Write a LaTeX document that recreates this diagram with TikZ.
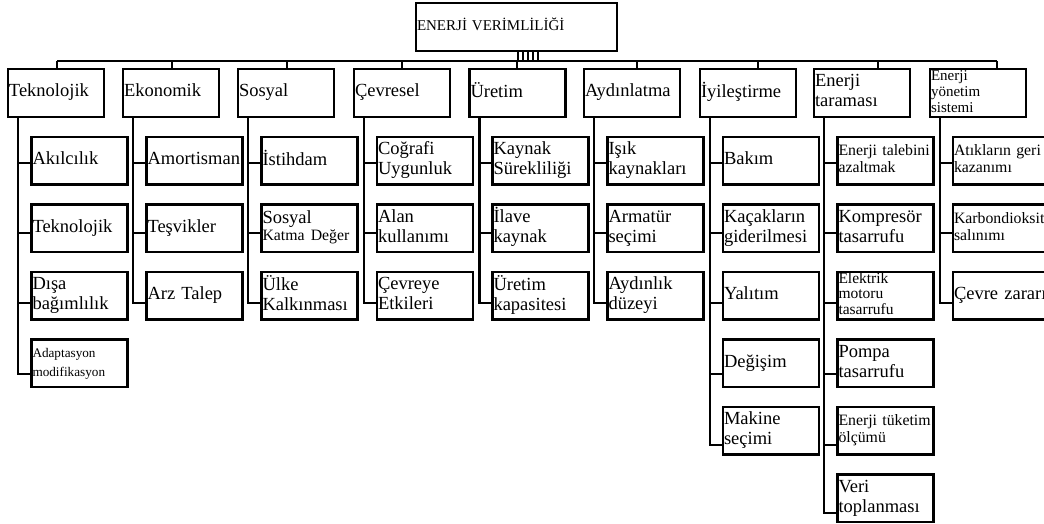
\documentclass[tikz,border=0pt]{standalone}
\usepackage{fontspec}
\setmainfont{Liberation Serif}
\usetikzlibrary{calc}
\tikzset{
  basebox/.style={draw=black, line width=2.4pt, anchor=north west, outer sep=0pt,
    inner xsep=1pt, inner ysep=0pt, text width=94pt, align=left,
    font=\fontsize{18.5}{20}\selectfont,
    execute at begin node=\strut, execute at end node=\strut},
  catbox/.style={basebox, minimum height=48pt},
  itembox/.style={basebox, minimum height=47.5pt},
  smalltext/.style={font=\fontsize{15.8}{17}\selectfont},
  tinytext/.style={font=\fontsize{13.2}{19}\selectfont},
  connline/.style={draw=black, line width=2.4pt},
  stripe/.style={draw=black, line width=1.3pt}
}
\newcommand{\kidlink}[3]{\draw[connline] ([xshift=10pt]#1.south west) |- ($(#2.west)+(0,#3)$);}
\begin{document}
\begin{tikzpicture}[x=1pt,y=-1pt]
\path[use as bounding box, clip] (0,0) rectangle (1044,524);

% root
\node[basebox, minimum height=48pt, text width=199pt, font=\fontsize{15}{17}\selectfont] (root) at (416,3) {ENERJİ VERİMLİLİĞİ};

% level 1
\node[catbox] (p1) at (8,69) {Teknolojik};
\node[catbox] (p2) at (123,69) {Ekonomik};
\node[catbox] (p3) at (238,69) {Sosyal};
\node[catbox] (p4) at (354,69) {Çevresel};
\node[catbox] (p5) at (469.5,69) {Üretim};
\node[catbox] (p6) at (584,69) {Aydınlatma};
\node[catbox] (p7) at (700,69) {İyileştirme};
\node[catbox] (p8) at (814,69) {Enerji\\taraması};
\node[catbox, font=\fontsize{15}{16}\selectfont] (p9) at (930,69) {Enerji\\yönetim\\sistemi};

% bar
\coordinate (s1) at (57,61);
\coordinate (s2) at (172,61);
\coordinate (s3) at (287,61);
\coordinate (s4) at (402,61);
\coordinate (s5) at (517,61);
\coordinate (s6) at (637,61);
\coordinate (s7) at (758,61);
\coordinate (s8) at (878,61);
\coordinate (s9) at (997,61);
\draw[connline] (s1) -- (s9);
\foreach \i in {1,...,9} {\draw[connline] (s\i) -- (s\i |- p\i.north);}
\foreach \k in {0,...,4} {\draw[stripe] ($(root.south west)+(102+5*\k,0)$) -- ($(root.south west)+(102+5*\k,10)$);}

% column 1
\node[itembox] (c11) at (31.5,137) {Akılcılık};
\node[itembox] (c12) at (31.5,204.5) {Teknolojik};
\node[itembox] (c13) at (31.5,272) {Dışa\\bağımlılık};
\node[itembox, tinytext] (c14) at (31.5,339.5) {Adaptasyon\\modifikasyon};
% column 2
\node[itembox] (c21) at (146.5,137) {Amortisman};
\node[itembox] (c22) at (146.5,204.5) {Teşvikler};
\node[itembox] (c23) at (146.5,272) {Arz Talep};
% column 3
\node[itembox] (c31) at (261.5,137) {İstihdam};
\node[itembox] (c32) at (261.5,204.5) {Sosyal\\[-3pt]{\fontsize{15.8}{17}\selectfont Katma Değer}};
\node[itembox] (c33) at (261.5,272) {Ülke\\Kalkınması};
% column 4
\node[itembox] (c41) at (377,137) {Coğrafi\\Uygunluk};
\node[itembox] (c42) at (377,204.5) {Alan\\kullanımı};
\node[itembox] (c43) at (377,272) {Çevreye\\Etkileri};
% column 5
\node[itembox] (c51) at (492.5,137) {Kaynak\\Sürekliliği};
\node[itembox] (c52) at (492.5,204.5) {İlave\\kaynak};
\node[itembox] (c53) at (492.5,272) {Üretim\\kapasitesi};
% column 6
\node[itembox] (c61) at (607.5,137) {Işık\\kaynakları};
\node[itembox] (c62) at (607.5,204.5) {Armatür\\seçimi};
\node[itembox] (c63) at (607.5,272) {Aydınlık\\düzeyi};
% column 7
\node[itembox] (c71) at (723,137) {Bakım};
\node[itembox] (c72) at (723,204.5) {Kaçakların\\giderilmesi};
\node[itembox] (c73) at (723,272) {Yalıtım};
\node[itembox] (c74) at (723,339.5) {Değişim};
\node[itembox] (c75) at (723,407) {Makine\\seçimi};
% column 8
\node[itembox, smalltext] (c81) at (837.5,137) {Enerji talebini\\azaltmak};
\node[itembox] (c82) at (837.5,204.5) {Kompresör\\tasarrufu};
\node[itembox, font=\fontsize{15.5}{15.8}\selectfont] (c83) at (837.5,272) {Elektrik\\motoru\\tasarrufu};
\node[itembox] (c84) at (837.5,339.5) {Pompa\\tasarrufu};
\node[itembox, smalltext] (c85) at (837.5,407) {Enerji tüketim\\ölçümü};
\node[itembox] (c86) at (837.5,474.5) {Veri\\toplanması};
% column 9
\node[itembox, smalltext] (c91) at (953,137) {Atıkların geri\\kazanımı};
\node[itembox, smalltext] (c92) at (953,204.5) {Karbondioksit\\salınımı};
\node[itembox] (c93) at (953,272) {Çevre zararı};

% connectors
\kidlink{p1}{c11}{2.25} \kidlink{p1}{c12}{4.75} \kidlink{p1}{c13}{7.25} \kidlink{p1}{c14}{10.75}
\kidlink{p2}{c21}{2.25} \kidlink{p2}{c22}{4.75} \kidlink{p2}{c23}{7.25}
\kidlink{p3}{c31}{2.25} \kidlink{p3}{c32}{4.75} \kidlink{p3}{c33}{7.25}
\kidlink{p4}{c41}{2.25} \kidlink{p4}{c42}{4.75} \kidlink{p4}{c43}{7.25}
\kidlink{p5}{c51}{2.25} \kidlink{p5}{c52}{4.75} \kidlink{p5}{c53}{7.25}
\kidlink{p6}{c61}{2.25} \kidlink{p6}{c62}{4.75} \kidlink{p6}{c63}{7.25}
\kidlink{p7}{c71}{2.25} \kidlink{p7}{c72}{4.75} \kidlink{p7}{c73}{7.25} \kidlink{p7}{c74}{10.75} \kidlink{p7}{c75}{14.25}
\kidlink{p8}{c81}{2.25} \kidlink{p8}{c82}{4.75} \kidlink{p8}{c83}{7.25} \kidlink{p8}{c84}{10.75} \kidlink{p8}{c85}{14.25} \kidlink{p8}{c86}{14.75}
\kidlink{p9}{c91}{2.25} \kidlink{p9}{c92}{4.75} \kidlink{p9}{c93}{7.25}
\end{tikzpicture}
\end{document}
